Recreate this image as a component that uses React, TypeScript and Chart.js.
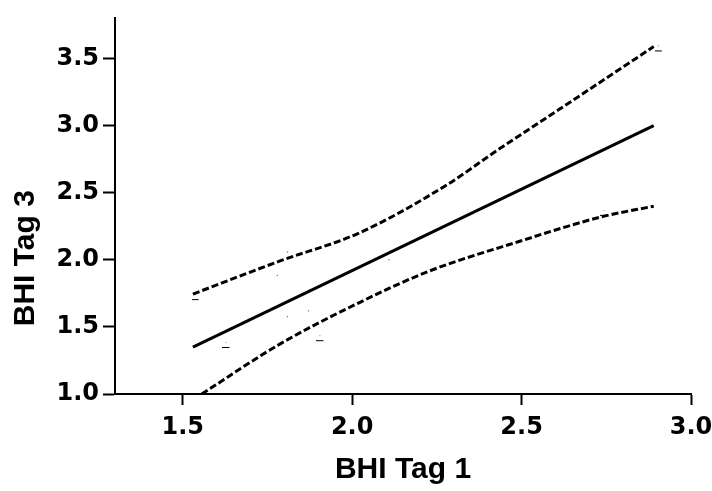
import React, { useEffect, useRef } from 'react';
import { Chart, registerables } from 'chart.js';

Chart.register(...registerables);

const xTicks = [1.5, 2.0, 2.5, 3.0];
const yTicks = [1.0, 1.5, 2.0, 2.5, 3.0, 3.5];
const xTitle = 'BHI Tag 1';
const yTitle = 'BHI Tag 3';

const regX = [1.53, 2.89];
const regY = [1.35, 3.0];

const upperX = [1.53, 1.785, 2.02, 2.28, 2.43, 2.61, 2.89];
const upperY = [1.745, 1.99, 2.2, 2.56, 2.82, 3.12, 3.59];

const lowerX = [1.556, 1.785, 2.02, 2.226, 2.49, 2.735, 2.89];
const lowerY = [1.0, 1.37, 1.68, 1.915, 2.135, 2.32, 2.4];

const markX = [1.538, 1.629, 1.906, 2.744, 2.905];
const markY = [1.715, 1.358, 1.409, 2.343, 3.569];

const dotX = [1.779, 1.809, 1.809, 1.871, 2.109];
const dotY = [1.883, 2.058, 1.577, 1.62, 2.0];

const TITLE_FONT = '"Liberation Sans", Arial, Helvetica, sans-serif';
const TICK_FONT = '"DejaVu Sans", "Liberation Sans", sans-serif';

const pts = (xs: number[], ys: number[]) => xs.map((x, i) => ({ x, y: ys[i] }));

const yTitlePlugin = {
  id: 'yTitlePlugin',
  afterDraw(chart: any) {
    const { ctx, chartArea } = chart;
    ctx.save();
    ctx.font = `bold 30px ${TITLE_FONT}`;
    ctx.fillStyle = '#000';
    ctx.textAlign = 'center';
    ctx.textBaseline = 'middle';
    ctx.translate(26, (chartArea.top + chartArea.bottom) / 2 + 52);
    ctx.rotate(-Math.PI / 2);
    ctx.fillText(yTitle, 0, 0);
    ctx.restore();
  },
};

export default function App() {
  const ref = useRef<HTMLCanvasElement | null>(null);

  useEffect(() => {
    document.body.style.margin = '0';
    const canvas = ref.current;
    if (!canvas) return;

    const mk = document.createElement('canvas');
    mk.width = 8;
    mk.height = 8;
    const mctx = mk.getContext('2d');
    if (mctx) {
      mctx.fillStyle = '#999';
      mctx.fillRect(3, 0, 1, 1);
      mctx.fillStyle = '#000';
      mctx.fillRect(0, 5, 7, 1);
    }

    const chart = new Chart(canvas, {
      type: 'scatter',
      data: {
        datasets: [
          {
            data: pts(regX, regY),
            showLine: true,
            borderColor: '#000',
            borderWidth: 3,
            pointRadius: 0,
          },
          {
            data: pts(upperX, upperY),
            showLine: true,
            borderColor: '#000',
            borderWidth: 3,
            borderDash: [7, 3],
            pointRadius: 0,
            cubicInterpolationMode: 'monotone',
          },
          {
            data: pts(lowerX, lowerY),
            showLine: true,
            borderColor: '#000',
            borderWidth: 3,
            borderDash: [7, 3],
            pointRadius: 0,
            cubicInterpolationMode: 'monotone',
          },
          {
            data: pts(markX, markY),
            showLine: false,
            pointStyle: mk as any,
            pointRadius: 4,
          },
          {
            data: pts(dotX, dotY),
            showLine: false,
            pointStyle: 'circle',
            pointRadius: 0.8,
            backgroundColor: '#888',
            borderWidth: 0,
          },
        ],
      },
      options: {
        animation: false,
        responsive: false,
        layout: { padding: { top: 10, right: 0, left: 0, bottom: 0 } },
        plugins: { legend: { display: false }, tooltip: { enabled: false } },
        scales: {
          x: {
            type: 'linear',
            min: 1.3,
            max: 3.0,
            afterBuildTicks: (scale: any) => {
              scale.ticks = xTicks.map((v) => ({ value: v }));
            },
            afterFit: (scale: any) => {
              scale.height = 97;
              scale.paddingRight = 21;
              scale.paddingLeft = 0;
            },
            grid: {
              display: true,
              drawOnChartArea: false,
              drawTicks: true,
              tickLength: 11,
              tickColor: '#000',
              tickWidth: 2,
            },
            border: { display: true, color: '#000', width: 2 },
            ticks: {
              color: '#000',
              padding: 8,
              font: { family: TICK_FONT, size: 24, weight: 'bold' },
              callback: (v: any) => Number(v).toFixed(1),
            },
            title: {
              display: true,
              text: xTitle,
              color: '#000',
              font: { family: TITLE_FONT, size: 30, weight: 'bold' },
              padding: { top: 4, bottom: 3 },
            },
          },
          y: {
            type: 'linear',
            min: 1.0,
            max: 3.8,
            afterBuildTicks: (scale: any) => {
              scale.ticks = yTicks.map((v) => ({ value: v }));
            },
            afterFit: (scale: any) => {
              scale.width = 115;
            },
            grid: {
              display: true,
              drawOnChartArea: false,
              drawTicks: true,
              tickLength: 12,
              tickColor: '#000',
              tickWidth: 2,
            },
            border: { display: true, color: '#000', width: 2 },
            ticks: {
              color: '#000',
              padding: 4,
              font: { family: TICK_FONT, size: 24, weight: 'bold' },
              callback: (v: any) => Number(v).toFixed(1),
            },
            title: { display: false },
          },
        },
      },
      plugins: [yTitlePlugin],
    } as any);

    return () => chart.destroy();
  }, []);

  return (
    <div style={{ width: 712, height: 491, background: '#fff' }}>
      <canvas ref={ref} width={712} height={491} style={{ display: 'block' }} />
    </div>
  );
}
